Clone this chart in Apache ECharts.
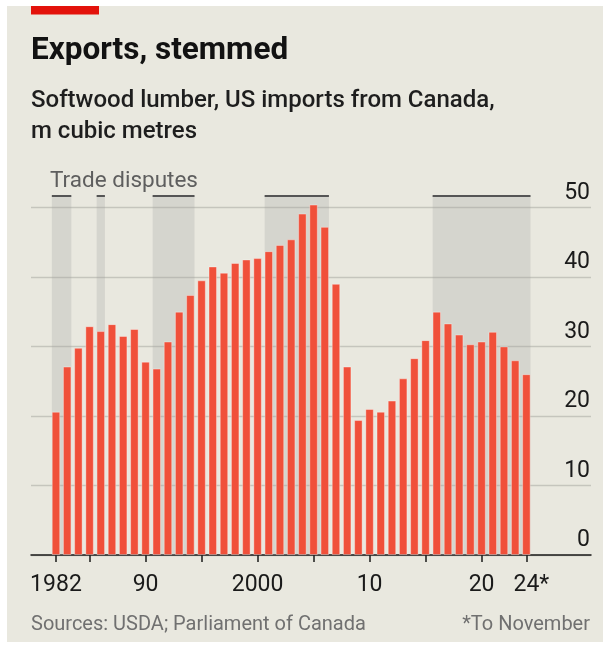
<!DOCTYPE html>
<html>
<head>
<meta charset="utf-8">
<title>Exports, stemmed</title>
<script src="https://cdn.jsdelivr.net/npm/echarts@6.0.0/dist/echarts.min.js"></script>
<style>
  html, body { margin: 0; padding: 0; background: #ffffff; }
  #main { width: 603px; height: 647px; }
</style>
</head>
<body>
<div id="main"></div>
<script>
// 年份
var years = [1982, 1983, 1984, 1985, 1986, 1987, 1988, 1989, 1990, 1991,
             1992, 1993, 1994, 1995, 1996, 1997, 1998, 1999, 2000, 2001,
             2002, 2003, 2004, 2005, 2006, 2007, 2008, 2009, 2010, 2011,
             2012, 2013, 2014, 2015, 2016, 2017, 2018, 2019, 2020, 2021,
             2022, 2023, 2024];
// Softwood lumber imports, m cubic metres
var imports = [20.6, 27.1, 29.8, 32.9, 32.2, 33.2, 31.5, 32.5, 27.8, 26.8,
               30.7, 35.0, 37.4, 39.5, 41.5, 40.6, 42.0, 42.5, 42.7, 43.7,
               44.6, 45.4, 49.1, 50.4, 47.2, 39.0, 27.1, 19.4, 21.0, 20.6,
               22.2, 25.4, 28.3, 30.9, 35.0, 33.3, 31.7, 30.3, 30.7, 32.1,
               30.0, 28.0, 26.0];
// trade disputes, first and last year
var disputes = [[1982, 1983], [1986, 1986], [1991, 1994], [2001, 2006], [2016, 2024]];
// axis ticks and labels
var tickYears = [1982, 1985, 1990, 1995, 2000, 2005, 2010, 2015, 2020, 2024];
var labelYears = [1982, 1990, 2000, 2010, 2020, 2024];
var labelText = ['1982', '90', '2000', '10', '20', '24*'];
var yTicks = [0, 10, 20, 30, 40, 50];

var myChart = echarts.init(document.getElementById('main'));

var font = 'Roboto, "Noto Sans", sans-serif';
var half = 0.37;      // half a bar, in years
var shadeTop = 51.65; // top of the shading (and of the grid), axis units

var barData = [];
for (var i = 0; i < years.length; i++) {
  barData.push([years[i], imports[i]]);
}
var areas = [];
var lines = [];
for (var j = 0; j < disputes.length; j++) {
  var a = disputes[j][0] - half, b = disputes[j][1] + half;
  areas.push([{ coord: [a, 0] }, { coord: [b, shadeTop] }]);
  lines.push([{ coord: [a, shadeTop] }, { coord: [b, shadeTop] }]);
}

var option = {
  backgroundColor: '#ffffff',
  animation: false,
  title: {
    left: 31,
    top: 36,
    padding: 0,
    itemGap: 17,
    text: 'Exports, stemmed',
    textStyle: { fontFamily: font, fontSize: 31.5, fontWeight: 'bold', color: '#121212', lineHeight: 31 },
    subtext: 'Softwood lumber, US imports from Canada,\nm cubic metres',
    subtextStyle: { fontFamily: font, fontSize: 24, fontWeight: 500, color: '#1e1e1e', lineHeight: 31 }
  },
  graphic: [
    { type: 'rect', z: -10, shape: { x: 7, y: 6, width: 596, height: 636 }, style: { fill: '#e9e8df' } },
    { type: 'rect', shape: { x: 31, y: 6, width: 68, height: 8.5 }, style: { fill: '#e3120b' } },
    { type: 'text', x: 50, y: 170, style: { text: 'Trade disputes', font: '22.5px ' + font, fill: '#5e5e5e', verticalAlign: 'top' } },
    { type: 'text', x: 31, y: 635, style: { text: 'Sources: USDA; Parliament of Canada', font: '20px ' + font, fill: '#707070', verticalAlign: 'bottom' } },
    { type: 'text', x: 590, y: 635, style: { text: '*To November', font: '20px ' + font, fill: '#707070', align: 'right', verticalAlign: 'bottom' } }
  ],
  grid: { left: 31, right: 12, top: 196, bottom: 92 },
  xAxis: {
    type: 'value',
    min: 1979.77,
    max: 2029.77,
    splitLine: { show: false },
    axisLine: { show: true, onZero: true, lineStyle: { color: '#1a1a1a', width: 1.5 } },
    axisTick: { show: true, customValues: tickYears, length: 7, lineStyle: { color: '#1a1a1a', width: 1.5 } },
    axisLabel: {
      customValues: labelYears,
      margin: 19,
      fontFamily: font,
      fontSize: 23,
      color: '#1a1a1a',
      formatter: function (v) {
        var k = labelYears.indexOf(Math.round(v));
        if (labelText[k] === '24*') return '{s|24*}';
        return k >= 0 ? labelText[k] : '';
      },
      rich: { s: { fontFamily: font, fontSize: 23, color: '#1a1a1a', padding: [0, 0, 0, 10] } }
    }
  },
  yAxis: {
    type: 'value',
    position: 'right',
    min: yTicks[0],
    max: shadeTop,
    interval: 10,
    axisLine: { show: false },
    axisTick: { show: false },
    splitLine: { showMaxLine: false, lineStyle: { color: '#c5c5bd', width: 1.3 } },
    axisLabel: {
      inside: true,
      showMaxLabel: false,
      margin: 1,
      verticalAlign: 'bottom',
      padding: [0, 0, 3, 0],
      fontFamily: font,
      fontSize: 23,
      color: '#1a1a1a',
      formatter: function (v) {
        return yTicks.indexOf(v) >= 0 ? String(v) : '';
      }
    }
  },
  series: [{
    type: 'bar',
    barWidth: 8.3,
    data: barData,
    itemStyle: { color: '#f0503a', borderColor: 'rgba(255,255,255,0.45)', borderWidth: 0.8 },
    markArea: {
      silent: true,
      itemStyle: { color: 'rgba(160,160,160,0.26)' },
      data: areas
    },
    markLine: {
      silent: true,
      symbol: 'none',
      label: { show: false },
      lineStyle: { color: '#555555', width: 2, type: 'solid' },
      data: lines
    }
  }]
};

myChart.setOption(option);
window.onresize = myChart.resize;
</script>
</body>
</html>
